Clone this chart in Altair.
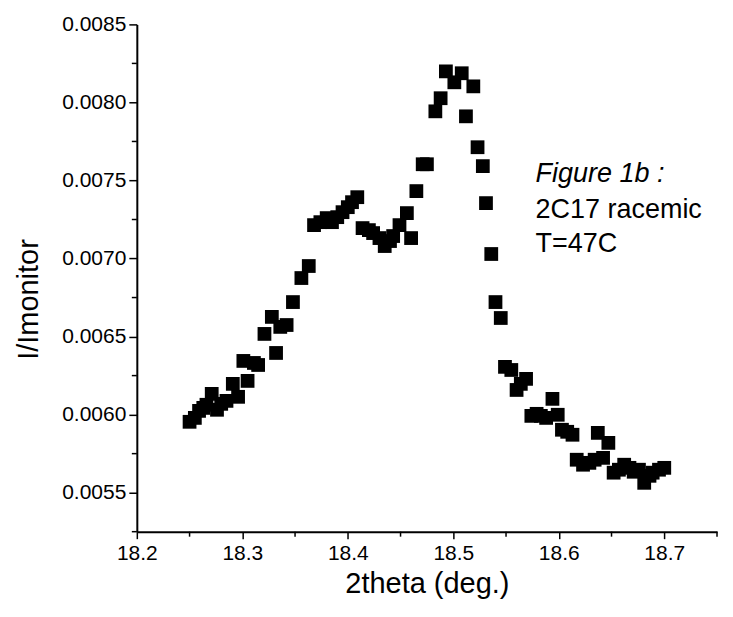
import altair as alt
import pandas as pd

# ---- data ----
two_theta = [18.250, 18.255, 18.259, 18.263, 18.266, 18.271, 18.276, 18.280, 18.285, 18.291,
             18.296, 18.301, 18.305, 18.311, 18.315, 18.321, 18.328, 18.332, 18.336, 18.342,
             18.348, 18.356, 18.363, 18.368, 18.374, 18.380, 18.385, 18.390, 18.395, 18.400,
             18.404, 18.409, 18.414, 18.420, 18.424, 18.430, 18.435, 18.440, 18.443, 18.449,
             18.456, 18.460, 18.465, 18.471, 18.475, 18.483, 18.488, 18.493, 18.501, 18.508,
             18.512, 18.519, 18.523, 18.528, 18.531, 18.536, 18.540, 18.545, 18.549, 18.555,
             18.560, 18.564, 18.569, 18.574, 18.579, 18.583, 18.588, 18.594, 18.599, 18.603,
             18.608, 18.613, 18.617, 18.623, 18.629, 18.634, 18.637, 18.642, 18.647, 18.652,
             18.657, 18.662, 18.667, 18.671, 18.676, 18.681, 18.686, 18.689, 18.695, 18.700]
intensity = [0.005954, 0.005979, 0.006024, 0.006043, 0.006063, 0.006133, 0.006031, 0.006069, 0.006088, 0.006197,
             0.006114, 0.006344, 0.006216, 0.006331, 0.006318, 0.006517, 0.006626, 0.006395, 0.006562, 0.006574,
             0.006721, 0.006875, 0.006952, 0.007214, 0.007233, 0.007259, 0.007233, 0.007265, 0.007297, 0.007329,
             0.007361, 0.007393, 0.007195, 0.007182, 0.007163, 0.007131, 0.007080, 0.007112, 0.007144, 0.007214,
             0.007291, 0.007131, 0.007432, 0.007604, 0.007604, 0.007943, 0.008027, 0.008199, 0.008129, 0.008187,
             0.007911, 0.008103, 0.007713, 0.007592, 0.007355, 0.007029, 0.006721, 0.006619, 0.006306, 0.006286,
             0.006158, 0.006197, 0.006229, 0.005992, 0.006005, 0.005992, 0.005979, 0.006101, 0.005999, 0.005903,
             0.005890, 0.005871, 0.005711, 0.005679, 0.005691, 0.005711, 0.005883, 0.005723, 0.005819, 0.005628,
             0.005647, 0.005679, 0.005659, 0.005634, 0.005647, 0.005563, 0.005608, 0.005628, 0.005647, 0.005659]

x_major = [18.2, 18.3, 18.4, 18.5, 18.6, 18.7]
x_minor = [18.25, 18.35, 18.45, 18.55, 18.65, 18.75]
y_major = [0.0055, 0.0060, 0.0065, 0.0070, 0.0075, 0.0080, 0.0085]
y_minor = [0.00525, 0.00575, 0.00625, 0.00675, 0.00725, 0.00775, 0.00825]

note_lines = ["Figure 1b :", "2C17 racemic", "T=47C"]
note_x = [18.578, 18.578, 18.578]
note_y = [0.007489, 0.007259, 0.007042]
note_style = ["italic", "normal", "normal"]

W, H = 581, 508
FONT = "Liberation Sans"

xscale = alt.Scale(domain=[18.2, 18.75], nice=False, zero=False)
yscale = alt.Scale(domain=[0.00525, 0.0085], nice=False, zero=False)

x_axis = alt.Axis(
    values=x_major, format=".1f", title="2theta (deg.)", grid=False,
    labelFontSize=21, labelColor="black", labelPadding=4, labelFont=FONT,
    tickSize=7, tickWidth=1.5, tickColor="black",
    domainColor="black", domainWidth=2,
    titleFontSize=29, titleFontWeight="normal", titleColor="black", titleFont=FONT,
    titlePadding=6, labelFlush=False)
y_axis = alt.Axis(
    values=y_major, format=".4f", title="I/Imonitor", grid=False,
    labelFontSize=21, labelColor="black", labelPadding=3, labelFont=FONT,
    tickSize=8, tickWidth=1.5, tickColor="black",
    domainColor="black", domainWidth=2,
    titleFontSize=29, titleFontWeight="normal", titleColor="black", titleFont=FONT,
    titleAngle=270, titleX=-108, titleY=275, titleAlign="center", titleBaseline="middle",
    labelFlush=False)


def X(field="x"):
    return alt.X(f"{field}:Q", scale=xscale, axis=x_axis)


def Y(field="y"):
    return alt.Y(f"{field}:Q", scale=yscale, axis=y_axis)


df = pd.DataFrame({"x": two_theta, "y": intensity})
points = alt.Chart(df).mark_point(
    shape="square", filled=True, size=190, color="black", opacity=1
).encode(x=X(), y=Y())

ymin_df = pd.DataFrame({"y": y_minor})
y_minor_ticks = alt.Chart(ymin_df).mark_rule(color="black", strokeWidth=1.5).encode(
    y=Y(), x=alt.value(0), x2=alt.value(-5),
)
xmin_df = pd.DataFrame({"x": x_minor})
x_minor_ticks = alt.Chart(xmin_df).mark_rule(color="black", strokeWidth=1.5).encode(
    x=X(), y=alt.value(H), y2=alt.value(H + 5),
)

notes_df = pd.DataFrame({"x": note_x, "y": note_y, "t": note_lines, "s": note_style})
notes_italic = alt.Chart(notes_df[notes_df.s == "italic"]).mark_text(
    align="left", baseline="alphabetic", fontSize=27, font=FONT, fontStyle="italic", color="black"
).encode(x=X(), y=Y(), text="t:N")
notes_normal = alt.Chart(notes_df[notes_df.s == "normal"]).mark_text(
    align="left", baseline="alphabetic", fontSize=27, font=FONT, color="black"
).encode(x=X(), y=Y(), text="t:N")

chart = alt.layer(points, y_minor_ticks, x_minor_ticks, notes_italic, notes_normal).properties(
    width=W, height=H,
    background="white",
    autosize=alt.AutoSizeParams(type="none"),
    padding={"left": 129, "top": 16, "right": 8, "bottom": 72},
).configure_view(stroke=None)

chart.save("out.html", embed_options={"renderer": "svg", "actions": False})
